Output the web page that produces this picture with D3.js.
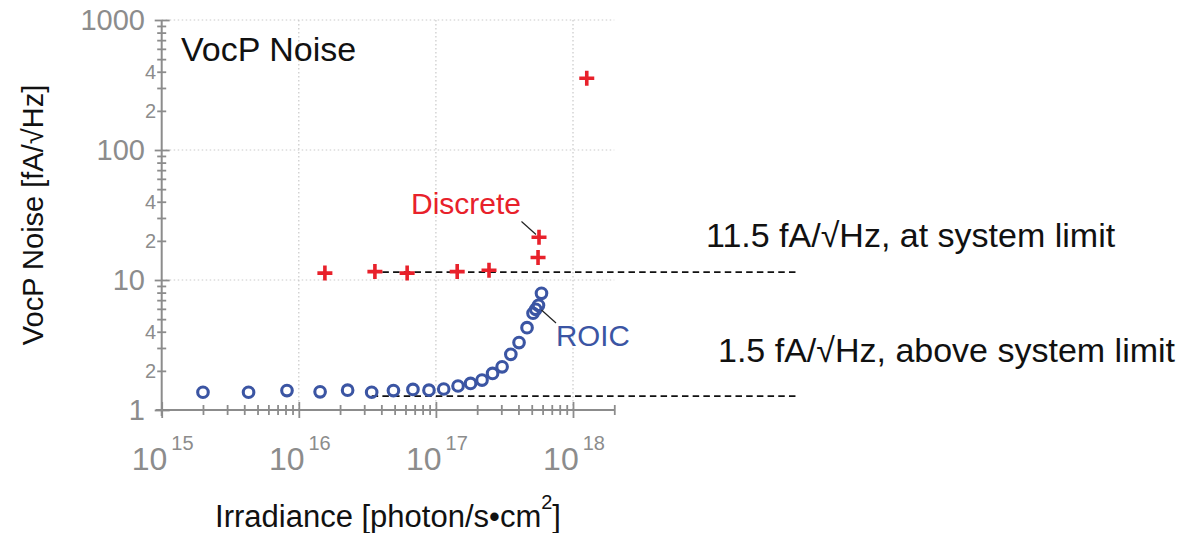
<!DOCTYPE html>
<html>
<head>
<meta charset="utf-8">
<script src="https://cdn.jsdelivr.net/npm/d3@7"></script>
<style>
  html, body { margin: 0; padding: 0; background: #fff; }
  svg { display: block; font-family: "Liberation Sans", Arial, Helvetica, sans-serif; }
</style>
</head>
<body>
<svg id="chart" width="1187" height="533"></svg>
<script>
// ROIC readout: irradiance [photon/s·cm²] and VocP noise [fA/√Hz]
const roicIrradiance = [2.0e15, 4.3e15, 8.2e15, 1.43e16, 2.27e16, 3.4e16, 4.9e16, 6.8e16, 8.9e16,
  1.14e17, 1.45e17, 1.79e17, 2.17e17, 2.59e17, 3.04e17, 3.52e17, 4.04e17, 4.62e17,
  5.11e17, 5.35e17, 5.60e17, 5.89e17];
const roicNoise = [1.37, 1.37, 1.41, 1.38, 1.42, 1.37, 1.41, 1.44, 1.42,
  1.45, 1.53, 1.60, 1.70, 1.91, 2.15, 2.68, 3.30, 4.30,
  5.55, 5.95, 6.39, 7.90];

// Discrete readout
const discreteIrradiance = [1.55e16, 3.59e16, 6.17e16, 1.43e17, 2.44e17, 5.56e17, 5.65e17, 1.26e18];
const discreteNoise = [11.3, 11.6, 11.3, 11.6, 11.9, 14.9, 21.3, 356];

// Reference levels (dashed) and their notes
const limitLevels = [11.5, 1.28];
const limitStart = 3.4e16;
const limitEnd = 4.3e19;
const limitNotes = ["11.5 fA/\u221AHz, at system limit", "1.5 fA/\u221AHz, above system limit"];

// Axis ticks
const xDecades = [15, 16, 17, 18];
const yDecadeLabels = ["1", "10", "100", "1000"];
const yMinorLabelled = [2, 4];

const svg = d3.select("#chart");

const x = d3.scaleLog().domain([1e15, 2e18]).range([161.7, 161.7 + 137.1 * Math.log10(2000)]);
const y = d3.scaleLog().domain([1, 1000]).range([410, 20]);

const axisGray = "#8c8c8c";
const gridGray = "#c9c9c9";
const red = "#e8212b";
const blue = "#3b55a3";

const isDecade = d => Math.abs(Math.log10(d) - Math.round(Math.log10(d))) < 1e-9;

// ---- grid ----
const grid = svg.append("g");
xDecades.slice(1).forEach(e => {
  grid.append("line")
    .attr("x1", x(Math.pow(10, e))).attr("x2", x(Math.pow(10, e)))
    .attr("y1", y(1000)).attr("y2", y(1))
    .attr("stroke", gridGray).attr("stroke-width", 1.2).attr("stroke-dasharray", "1.5,2.5");
});
[10, 100, 1000].forEach(v => {
  grid.append("line")
    .attr("x1", x(1e15)).attr("x2", x(2e18))
    .attr("y1", y(v)).attr("y2", y(v))
    .attr("stroke", gridGray).attr("stroke-width", 1.2).attr("stroke-dasharray", "1.5,2.5");
});

// ---- x axis ----
const xTickVals = [];
xDecades.forEach(e => {
  for (let m = 1; m <= 9; m++) {
    const v = m * Math.pow(10, e);
    if (v <= 2e18 * 1.0001) xTickVals.push(v);
  }
});
const xAxisG = svg.append("g")
  .attr("transform", `translate(0,${y(1)})`)
  .call(d3.axisBottom(x).tickValues(xTickVals).tickFormat("").tickSizeOuter(0));
xAxisG.select(".domain").attr("stroke", axisGray).attr("stroke-width", 2)
  .attr("d", `M${x(1e15) - 6},0H${x(2e18)}`);
xAxisG.selectAll(".tick line")
  .attr("stroke", axisGray).attr("stroke-width", 1.8)
  .attr("y1", d => isDecade(d) ? -8 : -5)
  .attr("y2", d => isDecade(d) ? 8 : 5);

// decade labels 10^n
xDecades.forEach(e => {
  const t = svg.append("text")
    .attr("x", x(Math.pow(10, e)) + 1)
    .attr("y", 470)
    .attr("text-anchor", "middle")
    .attr("fill", axisGray)
    .attr("font-size", 32);
  t.append("tspan").text("10");
  t.append("tspan").attr("dy", -20).attr("dx", 4).attr("font-size", 20).text(e);
});

// ---- y axis ----
const yTickVals = [];
[0, 1, 2].forEach(e => {
  for (let m = 1; m <= 9; m++) yTickVals.push(m * Math.pow(10, e));
});
yTickVals.push(1000);
const yAxisG = svg.append("g")
  .attr("transform", `translate(${x(1e15)},0)`)
  .call(d3.axisLeft(y).tickValues(yTickVals).tickFormat("").tickSizeOuter(0));
yAxisG.select(".domain").attr("stroke", axisGray).attr("stroke-width", 2)
  .attr("d", `M0,${y(1000)}V${y(1) + 6}`);
yAxisG.selectAll(".tick line")
  .attr("stroke", axisGray).attr("stroke-width", 1.8)
  .attr("x1", d => isDecade(d) ? -7 : -4.5)
  .attr("x2", d => isDecade(d) ? 8 : 4.5);

yDecadeLabels.forEach(lbl => {
  svg.append("text")
    .attr("x", 145)
    .attr("y", y(+lbl))
    .attr("dy", "0.36em")
    .attr("text-anchor", "end")
    .attr("fill", axisGray)
    .attr("font-size", 29)
    .text(lbl);
});
[0, 1, 2].forEach(e => {
  yMinorLabelled.forEach(m => {
    svg.append("text")
      .attr("x", 156)
      .attr("y", y(m * Math.pow(10, e)))
      .attr("dy", "0.36em")
      .attr("text-anchor", "end")
      .attr("fill", axisGray)
      .attr("font-size", 20)
      .text(m);
  });
});

// ---- reference levels ----
limitLevels.forEach(v => {
  svg.append("line")
    .attr("x1", x(limitStart)).attr("x2", x(limitEnd))
    .attr("y1", y(v)).attr("y2", y(v))
    .attr("stroke", "#111").attr("stroke-width", 1.8)
    .attr("stroke-dasharray", "6.5,4.2");
});

// ---- ROIC series (open circles) ----
svg.append("g").selectAll("circle")
  .data(roicIrradiance.map((v, i) => [v, roicNoise[i]]))
  .join("circle")
  .attr("cx", d => x(d[0]))
  .attr("cy", d => y(d[1]))
  .attr("r", 5.3)
  .attr("fill", "none")
  .attr("stroke", blue)
  .attr("stroke-width", 3.1);

// ---- Discrete series (plus markers) ----
svg.append("g").selectAll("path")
  .data(discreteIrradiance.map((v, i) => [v, discreteNoise[i]]))
  .join("path")
  .attr("transform", d => `translate(${x(d[0])},${y(d[1])})`)
  .attr("d", "M-7.5,0H7.5M0,-7.5V7.5")
  .attr("stroke", red)
  .attr("stroke-width", 3.6)
  .attr("fill", "none");

// ---- series callouts ----
svg.append("text").attr("x", 411).attr("y", 214).attr("fill", red)
  .attr("font-size", 30).text("Discrete");
svg.append("line").attr("x1", 521.5).attr("y1", 221.5).attr("x2", 536).attr("y2", 234.5)
  .attr("stroke", "#222").attr("stroke-width", 1.2);

svg.append("text").attr("x", 556).attr("y", 346).attr("fill", blue)
  .attr("font-size", 29.5).text("ROIC");
svg.append("line").attr("x1", 541.5).attr("y1", 310).attr("x2", 556).attr("y2", 323)
  .attr("stroke", "#222").attr("stroke-width", 1.2);

// ---- level notes ----
svg.append("text").attr("x", 706).attr("y", 247).attr("fill", "#111")
  .attr("font-size", 34).text(limitNotes[0]);
svg.append("text").attr("x", 718).attr("y", 362).attr("fill", "#111")
  .attr("font-size", 34).text(limitNotes[1]);

// ---- titles ----
svg.append("text").attr("x", 181).attr("y", 61).attr("fill", "#111")
  .attr("font-size", 34).text("VocP Noise");

svg.append("text")
  .attr("transform", `translate(43,215) rotate(-90)`)
  .attr("text-anchor", "middle")
  .attr("fill", "#111")
  .attr("font-size", 29)
  .text("VocP Noise [fA/\u221AHz]");

const xl = svg.append("text")
  .attr("x", 388).attr("y", 527)
  .attr("text-anchor", "middle")
  .attr("fill", "#111")
  .attr("font-size", 31);
xl.append("tspan").text("Irradiance [photon/s\u2022cm");
xl.append("tspan").attr("dy", -18).attr("font-size", 20).text("2");
xl.append("tspan").attr("dy", 18).text("]");
</script>
</body>
</html>
